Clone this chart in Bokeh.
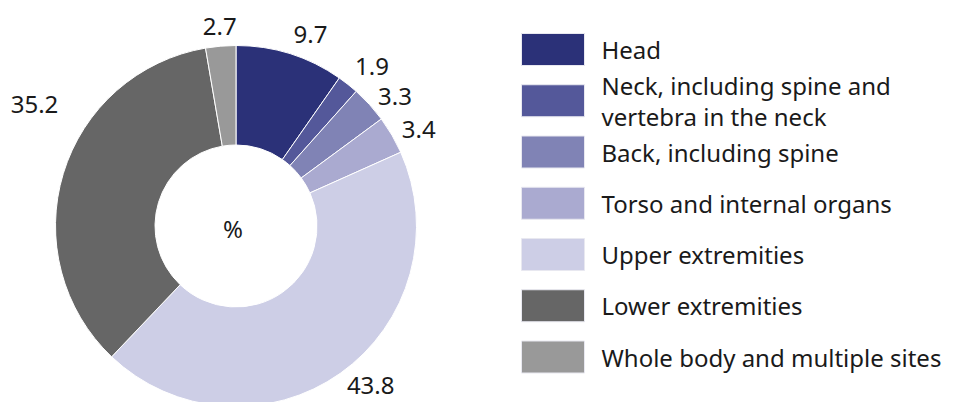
import numpy as np
from bokeh.plotting import figure
from bokeh.models import Range1d, ColumnDataSource
from bokeh.core.properties import value
from bokeh.embed import file_html
from bokeh.resources import INLINE

# ---- data ----
categories = [
    "Head",
    "Neck, including spine and\nvertebra in the neck",
    "Back, including spine",
    "Torso and internal organs",
    "Upper extremities",
    "Lower extremities",
    "Whole body and multiple sites",
]
values = [9.7, 1.9, 3.3, 3.4, 43.8, 35.2, 2.7]
value_labels = ["9.7", "1.9", "3.3", "3.4", "43.8", "35.2", "2.7"]
colors = ["#2b3178", "#54589a", "#8083b5", "#aaaad0", "#cdcee6", "#666666", "#999999"]
center_label = "%"

# ---- layout ----
W, H = 956, 402
FONT = value("Noto Sans")
FS = "24px"
TXT = "#1a1a1a"

p = figure(width=W, height=H, x_range=Range1d(0, W), y_range=Range1d(402 - H, 402),
           output_backend="svg", toolbar_location=None, min_border=0)
p.axis.visible = False
p.grid.visible = False
p.outline_line_color = None
p.background_fill_color = "white"
p.border_fill_color = "white"

cx, cy = 235.5, 402 - 225.5
R_out, R_in = 180.5, 81

vals = np.array(values, dtype=float)
frac = vals / vals.sum()
cum_end = np.cumsum(frac)
cum_start = cum_end - frac
start = np.pi / 2 - 2 * np.pi * cum_end
end = np.pi / 2 - 2 * np.pi * cum_start

src = ColumnDataSource(dict(start=start, end=end, color=colors))
p.annular_wedge(x=cx, y=cy, inner_radius=R_in, outer_radius=R_out,
                start_angle="start", end_angle="end", fill_color="color",
                line_color="white", line_width=1, source=src)

# value labels around the ring (outside end, anchored by angle)
mid = 2 * np.pi * (cum_start + cum_end) / 2  # clockwise from top
r_lab = 192
nudge = {"Lower extremities": (6, 66), "Upper extremities": (0, -3)}
for i, c in enumerate(categories):
    s, co = np.sin(mid[i]), np.cos(mid[i])
    x = cx + r_lab * s
    y = cy + r_lab * co
    dx, dy = nudge.get(c, (0, 0))
    align = "left" if s > 0.25 else ("right" if s < -0.25 else "center")
    base = "bottom" if co > 0.7 else "middle"
    p.text(x=[x + dx], y=[y + dy], text=[value_labels[i]], text_align=align,
           text_baseline=base, text_font=FONT, text_font_size=FS, text_color=TXT)

p.text(x=[cx - 3], y=[cy - 2], text=[center_label], text_align="center", text_baseline="middle",
       text_font=FONT, text_font_size=FS, text_color=TXT)

# legend
step = 51.25
ys = [402 - (49 + i * step) for i in range(len(categories))]
p.rect(x=552.5, y=ys, width=63, height=32, fill_color=colors, line_color="#e8e8f0", line_width=1)
p.text(x=601, y=ys, text=categories, text_align="left", text_baseline="middle",
       text_font=FONT, text_font_size=FS, text_color=TXT, text_line_height=0.95)

open("out.html", "w").write(file_html(p, INLINE))
